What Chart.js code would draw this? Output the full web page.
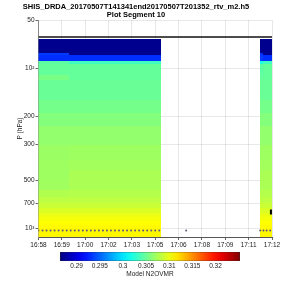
<!DOCTYPE html>
<html><head><meta charset="utf-8">
<script src="https://cdn.jsdelivr.net/npm/chart.js@4.4.1/dist/chart.umd.min.js"></script>
<style>
html,body{margin:0;padding:0;background:#fff;width:300px;height:300px;overflow:hidden;}
#w1{position:absolute;left:0;top:0;width:300px;height:250px;}
#w2{position:absolute;left:0;top:245px;width:300px;height:55px;}
</style></head><body>
<div id="w1"><canvas id="c1"></canvas></div>
<div id="w2"><canvas id="c2"></canvas></div>
<script>
// ---- data ----
const titleLines = ["SHIS_DRDA_20170507T141341end20170507T201352_rtv_m2.h5", "Plot Segment 10"];
const xTickValues = [0, 87, 174, 261, 348, 435, 522, 609, 696, 783, 870]; // seconds after 16:58:00
const xTickLabels = ["16:58","16:59","17:00","17:02","17:03","17:05","17:06","17:08","17:09","17:11","17:12"];
const yTickValues = [50, 100, 200, 300, 500, 700, 1000];
const yTickLabels = ["50", "10²", "200", "300", "500", "700", "10³"];
const pressureEdges = [66, 80, 83, 89.6, 94, 110, 118, 158, 190, 230, 300, 375, 433, 500, 577, 640, 700, 750, 800, 850, 900, 950, 1000, 1135];
const profileA = [0.2870, 0.2935, 0.2930, 0.3045, 0.3048, 0.3056, 0.3050, 0.3054, 0.3060, 0.3066, 0.3069, 0.3070, 0.3070, 0.3071, 0.3077, 0.3082, 0.3087, 0.3093, 0.3099, 0.3104, 0.3107, 0.3109, 0.3110];
const profileB = [0.2870, 0.2870, 0.2930, 0.3034, 0.3048, 0.3048, 0.3050, 0.3054, 0.3060, 0.3066, 0.3070, 0.3072, 0.3075, 0.3075, 0.3078, 0.3082, 0.3087, 0.3093, 0.3099, 0.3104, 0.3107, 0.3109, 0.3110];
const profileC = [0.2870, 0.2930, 0.2935, 0.3020, 0.3045, 0.3048, 0.3050, 0.3054, 0.3060, 0.3066, 0.3070, 0.3072, 0.3074, 0.3075, 0.3078, 0.3082, 0.3087, 0.3093, 0.3099, 0.3104, 0.3107, 0.3109, 0.3110];
const columnTimes = [0, 15, 30, 45, 60, 75, 90, 105, 120, 135, 150, 165, 180, 195, 210, 225, 240, 255, 270, 285, 300, 315, 330, 345, 360, 375, 390, 405, 420, 435, 450, 832, 844, 856, 868];
const columnWidths = [15, 15, 15, 15, 15, 15, 15, 15, 15, 15, 15, 15, 15, 15, 15, 15, 15, 15, 15, 15, 15, 15, 15, 15, 15, 15, 15, 15, 15, 15, 15, 12, 12, 12, 12];
const columnProfile = ["A","A","A","A","A","A","A","A","B","B","B","B","B","B","B","B","B","B","B","B","B","B","B","B","B","B","B","B","B","B","B","C","B","B","B"];
const surfaceTimes = [0, 15, 30, 45, 60, 75, 90, 105, 120, 135, 150, 165, 180, 195, 210, 225, 240, 255, 270, 285, 300, 315, 330, 345, 360, 375, 390, 405, 420, 435, 450, 550, 826, 838, 850, 863];
const surfacePressure = [1034, 1034, 1034, 1034, 1034, 1034, 1034, 1034, 1034, 1034, 1034, 1034, 1034, 1034, 1034, 1034, 1034, 1034, 1034, 1034, 1034, 1034, 1034, 1034, 1034, 1034, 1034, 1034, 1034, 1034, 1034, 1034, 1034, 1034, 1034, 1034];
const topLinePressure = 63.8;
const markerTime = [866];
const markerPressure = [792];
const colorMin = 0.2864, colorMax = 0.3253;
const colorbarTicks = [0.29, 0.295, 0.3, 0.305, 0.31, 0.315, 0.32];
const colorbarTickLabels = ["0.29", "0.295", "0.3", "0.305", "0.31", "0.315", "0.32"];
const colorbarTitle = "Model N2OVMR";
const yAxisTitle = "P (hPa)";

// ---- helpers ----
function jet(f){
  const c = v => Math.max(0, Math.min(1, v));
  const r = c(1.5 - Math.abs(4*f - 3)), g = c(1.5 - Math.abs(4*f - 2)), b = c(1.5 - Math.abs(4*f - 1));
  return `rgb(${Math.round(r*255)},${Math.round(g*255)},${Math.round(b*255)})`;
}
const profiles = {A: profileA, B: profileB, C: profileC};
const FONT = "'Liberation Sans', Arial, sans-serif";
const TXT = "#222";

const heatmapPlugin = {
  id: 'heatmap',
  beforeDatasetsDraw(chart){
    const {ctx, chartArea, scales} = chart;
    const xs = scales.x, ys = scales.y;
    ctx.save();
    ctx.beginPath();
    ctx.rect(chartArea.left, chartArea.top, chartArea.right - chartArea.left, chartArea.bottom - chartArea.top);
    ctx.clip();
    columnTimes.forEach((t, ci) => {
      const prof = profiles[columnProfile[ci]];
      const x0 = Math.round(xs.getPixelForValue(t - columnWidths[ci]/2));
      const x1 = Math.round(xs.getPixelForValue(t + columnWidths[ci]/2));
      for (let r = 0; r < prof.length; r++) {
        const ya = Math.round(ys.getPixelForValue(pressureEdges[r]));
        const yb = Math.round(ys.getPixelForValue(pressureEdges[r+1]));
        ctx.fillStyle = jet((prof[r] - colorMin) / (colorMax - colorMin));
        ctx.fillRect(x0, Math.min(ya, yb), x1 - x0, Math.abs(yb - ya));
      }
    });
    ctx.restore();
  }
};

Chart.defaults.font.family = FONT;
Chart.defaults.color = TXT;

new Chart(document.getElementById('c1'), {
  type: 'scatter',
  data: {
    datasets: [
      { type: 'line', data: [{x: 0, y: topLinePressure}, {x: 870, y: topLinePressure}], borderColor: '#111', borderWidth: 1.5, pointRadius: 0, fill: false },
      { data: surfaceTimes.map((t, i) => ({x: t, y: surfacePressure[i]})), pointRadius: 1, backgroundColor: '#5a5a78', borderWidth: 0 },
      { data: markerTime.map((t, i) => ({x: t, y: markerPressure[i]})), pointStyle: 'line', rotation: 90, pointRadius: 2.5, borderColor: '#000', borderWidth: 2 }
    ]
  },
  options: {
    responsive: true, maintainAspectRatio: false, animation: false,
    layout: { padding: { left: 0, right: 28, top: 0, bottom: 0 } },
    plugins: {
      legend: { display: false }, tooltip: { enabled: false },
      title: { display: true, text: titleLines, color: '#000', font: { size: 7.5, weight: 'bold', lineHeight: 1.07 }, padding: { top: 3, bottom: 1 } }
    },
    scales: {
      x: {
        type: 'linear', min: 0, max: 870, z: 1,
        afterBuildTicks: s => { s.ticks = xTickValues.map(v => ({value: v})); },
        afterFit: s => { s.height = 13; },
        ticks: { callback: (v, i) => xTickLabels[i], font: { size: 6.5 }, color: TXT, maxRotation: 0, autoSkip: false, padding: 1 },
        grid: { color: 'rgba(0,0,0,0.09)', tickLength: 3, tickColor: '#666' },
        border: { color: '#555', width: 1 }
      },
      y: {
        type: 'logarithmic', min: 50, max: 1135, reverse: true, z: 1,
        afterBuildTicks: s => { s.ticks = yTickValues.map(v => ({value: v})); },
        afterFit: s => { s.width = 38.5; },
        ticks: { callback: (v, i) => yTickLabels[i], font: { size: 6.5 }, color: TXT, padding: 1, autoSkip: false },
        grid: { color: 'rgba(0,0,0,0.09)', tickLength: 3, tickColor: '#666' },
        border: { color: '#888', width: 1 },
        title: { display: true, text: yAxisTitle, font: { size: 6.5 }, color: TXT, padding: { top: 16, bottom: 0 } }
      }
    }
  },
  plugins: [heatmapPlugin]
});

// ---- colorbar ----
new Chart(document.getElementById('c2'), {
  type: 'bar',
  data: {
    labels: [''],
    datasets: [{
      data: [[colorMin, colorMax]],
      backgroundColor: (ctx) => {
        const area = ctx.chart.chartArea;
        if (!area) return '#888';
        const g = ctx.chart.ctx.createLinearGradient(area.left, 0, area.right, 0);
        for (let i = 0; i <= 20; i++) g.addColorStop(i/20, jet(i/20));
        return g;
      },
      borderColor: '#333', borderWidth: 0.7, borderSkipped: false,
      barPercentage: 1, categoryPercentage: 1
    }]
  },
  options: {
    indexAxis: 'y', responsive: true, maintainAspectRatio: false, animation: false,
    layout: { padding: { left: 60, right: 60, top: 7, bottom: 22 } },
    plugins: { legend: { display: false }, tooltip: { enabled: false } },
    scales: {
      y: { display: false },
      x: {
        type: 'linear', min: colorMin, max: colorMax,
        afterBuildTicks: s => { s.ticks = colorbarTicks.map(v => ({value: v})); },
        afterFit: s => { s.height = 17; },
        ticks: { callback: (v, i) => colorbarTickLabels[i], font: { size: 6.5 }, color: TXT, padding: 1, maxRotation: 0, autoSkip: false },
        grid: { display: false, drawTicks: false, tickLength: 0 },
        border: { display: false },
        title: { display: true, text: colorbarTitle, font: { size: 6.5 }, color: TXT, padding: { top: 0, bottom: 0 } }
      }
    }
  }
});
</script>
</body></html>
